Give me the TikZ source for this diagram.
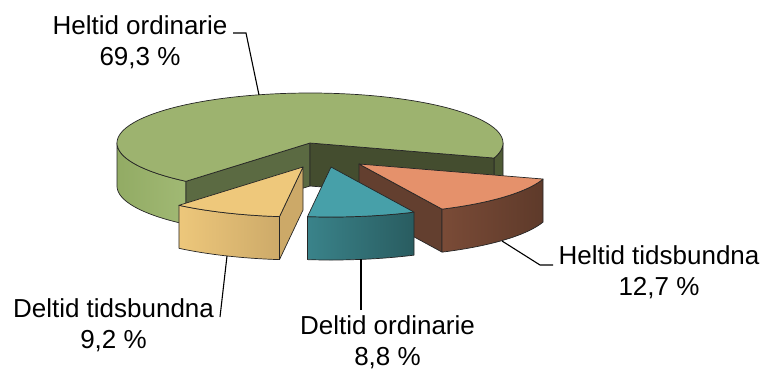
\documentclass[tikz,border=0pt]{standalone}
\usepackage{fontspec}
\setmainfont{Liberation Sans}
\usetikzlibrary{calc}
\begin{document}
\begin{tikzpicture}[x=1pt,y=-1pt,
  edge/.style={draw=black!85,line width=0.7pt,line join=round},
  lbl/.style={align=center,inner sep=0pt,font=\fontsize{26}{31}\selectfont},
  leader/.style={draw=black,line width=1.1pt}]
\useasboundingbox (0,0) rectangle (765,370);
\definecolor{gTop}{HTML}{9DB36F}
\definecolor{gWallL}{HTML}{92AB64}
\definecolor{gWallR}{HTML}{A1B974}
\definecolor{gCutA}{HTML}{5B6A42}
\definecolor{gCutB}{HTML}{444D2F}
\definecolor{gRight}{HTML}{4E5A35}
\definecolor{oTop}{HTML}{E5916B}
\definecolor{oWallL}{HTML}{7A4B37}
\definecolor{oWallR}{HTML}{5E3A2A}
\definecolor{oCut}{HTML}{633F2F}
\definecolor{tTop}{HTML}{47A0A9}
\definecolor{tWallL}{HTML}{3A838A}
\definecolor{tWallR}{HTML}{295C60}
\definecolor{yTop}{HTML}{EEC87B}
\definecolor{yWallL}{HTML}{EDC77B}
\definecolor{yWallR}{HTML}{CDAA69}
\definecolor{yCut}{HTML}{CCA968}
\def\RX{193}\def\RY{50}\def\HH{43}
% ---------- green slice (Heltid ordinarie), apex (310,143), -17.5 .. 230
\coordinate (gA) at (310,143);
\coordinate (gB) at (310,186);
\coordinate (gP1) at ({310+\RX*cos(230)},{143-\RY*sin(230)});
\coordinate (gP2) at ({310+\RX*cos(-17.5)},{143-\RY*sin(-17.5)});
\path[edge,left color=gWallL,right color=gWallR]
  plot[domain=180:230,samples=40,variable=\t] ({310+\RX*cos(\t)},{143-\RY*sin(\t)})
  -- plot[domain=230:180,samples=40,variable=\t] ({310+\RX*cos(\t)},{143+\HH-\RY*sin(\t)}) -- cycle;
\path[edge,fill=gRight]
  plot[domain=-17.5:0,samples=20,variable=\t] ({310+\RX*cos(\t)},{143-\RY*sin(\t)})
  -- plot[domain=0:-17.5,samples=20,variable=\t] ({310+\RX*cos(\t)},{143+\HH-\RY*sin(\t)}) -- cycle;
\path[edge,fill=gCutA] (gA) -- (gP1) -- ++(0,\HH) -- (gB) -- cycle;
\path[edge,fill=gCutB] (gA) -- (gP2) -- ++(0,\HH) -- (gB) -- cycle;
\path[edge,fill=gTop] (gA) --
  plot[domain=-17.5:230,samples=120,variable=\t] ({310+\RX*cos(\t)},{143-\RY*sin(\t)}) -- cycle;
% ---------- orange slice (Heltid tidsbundna), apex (359,164), -64.5 .. -17.5
\coordinate (oA) at (359,164);
\coordinate (oB) at (359,207);
\coordinate (oP1) at ({359+\RX*cos(-64.5)},{164-\RY*sin(-64.5)});
\path[edge,fill=oCut] (oA) -- (oP1) -- ++(0,\HH) -- (oB) -- cycle;
\path[edge,left color=oWallL,right color=oWallR]
  plot[domain=-64.5:-17.5,samples=40,variable=\t] ({359+\RX*cos(\t)},{164-\RY*sin(\t)})
  -- plot[domain=-17.5:-64.5,samples=40,variable=\t] ({359+\RX*cos(\t)},{164+\HH-\RY*sin(\t)}) -- cycle;
\path[edge,fill=oTop] (oA) --
  plot[domain=-64.5:-17.5,samples=40,variable=\t] ({359+\RX*cos(\t)},{164-\RY*sin(\t)}) -- cycle;
% ---------- teal slice (Deltid ordinarie), apex (331,167), -97 .. -64.5
\coordinate (tA) at (331,167);
\path[edge,left color=tWallL,right color=tWallR]
  plot[domain=-97:-64.5,samples=30,variable=\t] ({331+\RX*cos(\t)},{167-\RY*sin(\t)})
  -- plot[domain=-64.5:-97,samples=30,variable=\t] ({331+\RX*cos(\t)},{167+\HH-\RY*sin(\t)}) -- cycle;
\path[edge,fill=tTop] (tA) --
  plot[domain=-97:-64.5,samples=30,variable=\t] ({331+\RX*cos(\t)},{167-\RY*sin(\t)}) -- cycle;
% ---------- yellow slice (Deltid tidsbundna), apex (303,167), -130 .. -97
\coordinate (yA) at (303,167);
\coordinate (yB) at (303,210);
\coordinate (yP2) at ({303+\RX*cos(-97)},{167-\RY*sin(-97)});
\path[edge,fill=yCut] (yA) -- (yP2) -- ++(0,\HH) -- (yB) -- cycle;
\path[edge,left color=yWallL,right color=yWallR]
  plot[domain=-130:-97,samples=30,variable=\t] ({303+\RX*cos(\t)},{167-\RY*sin(\t)})
  -- plot[domain=-97:-130,samples=30,variable=\t] ({303+\RX*cos(\t)},{167+\HH-\RY*sin(\t)}) -- cycle;
\path[edge,fill=yTop] (yA) --
  plot[domain=-130:-97,samples=30,variable=\t] ({303+\RX*cos(\t)},{167-\RY*sin(\t)}) -- cycle;
% ---------- labels (anchor=base is the baseline of the last line)
\node[lbl,anchor=base] (l1) at (140,65) {Heltid ordinarie\\69,3 \%};
\node[lbl,anchor=base] (l2) at (113.5,348) {Deltid tidsbundna\\9,2 \%};
\node[lbl,anchor=base] (l3) at (387.5,365) {Deltid ordinarie\\8,8 \%};
\node[lbl,anchor=base] (l4) at (659,295) {Heltid tidsbundna\\12,7 \%};
% ---------- leaders
\coordinate (c1a) at (233,33); \coordinate (c1b) at (246,33); \coordinate (c1c) at (259,95);
\coordinate (c2a) at (220,317); \coordinate (c2b) at (227,256);
\coordinate (c3a) at (361,310); \coordinate (c3b) at (361,259);
\coordinate (c4a) at (553,265); \coordinate (c4b) at (540,265); \coordinate (c4c) at (502,241);
\draw[leader] (c1a) -- (c1b) -- (c1c);
\draw[leader] (c2a) -- (c2b);
\draw[leader] (c3a) -- (c3b);
\draw[leader] (c4a) -- (c4b) -- (c4c);
\end{tikzpicture}
\end{document}
